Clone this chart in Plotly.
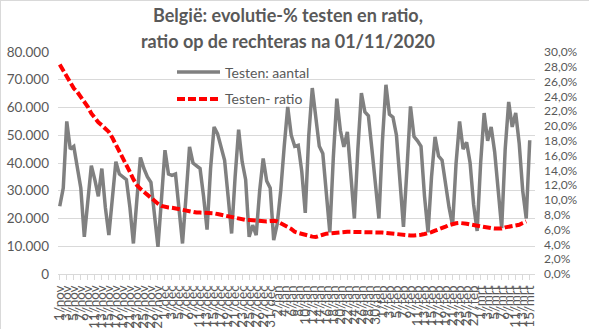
import datetime as dt
import plotly.graph_objects as go

# Daily number of tests in Belgium, from 1 November 2020 onward
tests = [
    24400, 31000, 55000, 45000, 46000, 38000, 31000,
    13400, 25000, 39000, 34000, 28000, 38000, 24000,
    14000, 28000, 40500, 36000, 35000, 34000, 24000,
    11000, 27000, 42000, 38000, 35000, 33000, 22000,
    9800, 27000, 44600, 36000, 35500, 36000, 23000,
    11000, 28000, 45800, 40000, 39000, 38000, 28000,
    16000, 38000, 53000, 50500, 46000, 41000, 28000,
    14600, 35000, 52000, 40500, 34000, 13400, 17600,
    14000, 30000, 41600, 33500, 31000, 12200, 18000,
    30000, 46000, 60200, 50000, 46000, 46400, 37000,
    22000, 50000, 67000, 56500, 46000, 43400, 30000,
    15000, 42000, 63200, 51800, 45800, 51200, 36000,
    20000, 45000, 65200, 58400, 57000, 45000, 32000,
    20000, 48000, 68200, 57500, 56500, 50000, 35000,
    17000, 38000, 60400, 49500, 48000, 46000, 28000,
    15000, 35000, 49400, 42500, 41000, 32000, 24000,
    17500, 40000, 55000, 45000, 47500, 40000, 25000,
    15500, 40000, 58000, 48000, 53000, 44000, 30000,
    16500, 45000, 62000, 53000, 58000, 47000, 30000,
    20000, 48200,
]

# Positivity ratio (%), right-hand axis
ratio = [
    28.3, 27.5, 26.6, 25.8, 25.1, 24.6, 24.0,
    23.4, 22.6, 21.7, 21.0, 20.5, 20.1, 19.6,
    19.2, 18.4, 17.5, 16.7, 15.8, 14.8, 13.8,
    12.8, 12.0, 11.5, 11.1, 10.7, 10.2, 9.8,
    9.5, 9.2, 9.05, 9.0, 8.95, 8.85, 8.8,
    8.7, 8.6, 8.5, 8.4, 8.3, 8.3, 8.3,
    8.3, 8.3, 8.2, 8.1, 8.0, 7.9, 7.8,
    7.6, 7.5, 7.4, 7.35, 7.3, 7.3, 7.25,
    7.2, 7.15, 7.1, 7.1, 7.15, 7.2, 7.1,
    6.8, 6.6, 6.35, 6.1, 5.7, 5.55, 5.4,
    5.3, 5.15, 5.05, 5.0, 5.1, 5.3, 5.45,
    5.5, 5.6, 5.6, 5.65, 5.7, 5.7, 5.7,
    5.7, 5.7, 5.7, 5.65, 5.6, 5.6, 5.6,
    5.6, 5.6, 5.55, 5.5, 5.45, 5.35, 5.3,
    5.2, 5.2, 5.2, 5.2, 5.2, 5.3, 5.4,
    5.5, 5.65, 5.85, 6.0, 6.2, 6.4, 6.6,
    6.75, 6.85, 6.9, 6.9, 6.8, 6.7, 6.6,
    6.5, 6.4, 6.35, 6.3, 6.2, 6.15, 6.1,
    6.15, 6.3, 6.4, 6.45, 6.5, 6.65, 6.9,
    7.1, None,
]

start_date = dt.date(2020, 11, 1)
month_abbr = {11: "nov", 12: "dec", 1: "jan", 2: "feb", 3: "mrt"}

left_ticks = list(range(0, 80001, 10000))
left_labels = ["0", "10.000", "20.000", "30.000", "40.000",
               "50.000", "60.000", "70.000", "80.000"]
right_ticks = list(range(0, 31, 2))
right_labels = [f"{v},0%" for v in right_ticks]

title_lines = ["België: evolutie-% testen en ratio,",
               "ratio op de rechteras na 01/11/2020"]
series_names = ["Testen: aantal", "Testen- ratio"]

days = [start_date + dt.timedelta(days=k) for k in range(len(tests))]
day_labels = [f"{d.day}/{month_abbr[d.month]}" for d in days]
shown = day_labels[::2]

TXT = "#595959"
GRID = "#d9d9d9"
GREY = "#808080"
RED = "#ff0000"
FONT = "Lato"

fig = go.Figure()
fig.add_trace(go.Scatter(
    x=day_labels, y=tests, name=series_names[0], mode="lines",
    line=dict(color=GREY, width=3.5), yaxis="y", showlegend=False,
))
fig.add_trace(go.Scatter(
    x=day_labels, y=ratio, name=series_names[1], mode="lines",
    line=dict(color=RED, width=4, dash="8px,3px"), yaxis="y2",
    showlegend=False,
))

W, H = 589, 329
L, R, T, B = 58, 54, 52, 55
pw, ph = W - L - R, H - T - B


def px(xp):
    return (xp - L) / pw


def py(yp):
    return (H - B - yp) / ph


fig.update_layout(
    width=W, height=H,
    margin=dict(l=L, r=R, t=T, b=B, pad=0),
    paper_bgcolor="white", plot_bgcolor="white",
    font=dict(family=FONT, size=13.5, color=TXT),
    xaxis=dict(
        type="category", categoryorder="array", categoryarray=day_labels,
        range=[-0.5, 135.5], tickmode="array", tickvals=shown, ticktext=shown,
        tickangle=-90, ticks="outside", ticklen=5, tickcolor=GRID,
        showline=True, linecolor=GRID, linewidth=1, showgrid=False,
        tickfont=dict(size=13.5, color=TXT), automargin=False,
    ),
    yaxis=dict(
        range=[0, 80000], tickmode="array", tickvals=left_ticks,
        ticktext=left_labels, showgrid=True, gridcolor=GRID, gridwidth=1,
        zeroline=False, showline=False, ticklabelstandoff=8,
        automargin=False,
    ),
    yaxis2=dict(
        range=[0, 30], tickmode="array", tickvals=right_ticks,
        ticktext=right_labels, overlaying="y", side="right",
        showgrid=False, zeroline=False, showline=False, ticklabelstandoff=8,
        tickfont=dict(size=12, color=TXT), automargin=False,
    ),
)

# Title, two centred lines
for text, yc in zip(title_lines, [15, 41]):
    fig.add_annotation(
        text=f"<b>{text}</b>", xref="paper", yref="paper",
        x=px(288), y=py(yc), xanchor="center", yanchor="middle",
        showarrow=False, font=dict(family=FONT, size=18, color=TXT),
    )

# Legend keys drawn inside the plot area
legend_rows = [(series_names[0], 72, GREY, "solid"),
               (series_names[1], 99, RED, "dash")]
for name, yc, col, dash in legend_rows:
    fig.add_shape(
        type="line", xref="paper", yref="paper",
        x0=px(177), x1=px(220), y0=py(yc), y1=py(yc),
        line=dict(color=col, width=4 if dash == "dash" else 3.5,
                  dash="8px,3px" if dash == "dash" else "solid"),
    )
    fig.add_annotation(
        text=name, xref="paper", yref="paper", x=px(223), y=py(yc),
        xanchor="left", yanchor="middle", showarrow=False,
        font=dict(family=FONT, size=14, color=TXT),
    )

# Thin chart-area border along the top and left edges
fig.add_shape(type="line", xref="paper", yref="paper",
              x0=px(0.5), x1=px(0.5), y0=py(0), y1=py(H),
              line=dict(color=GRID, width=1))
fig.add_shape(type="line", xref="paper", yref="paper",
              x0=px(0), x1=px(W), y0=py(0.5), y1=py(0.5),
              line=dict(color=GRID, width=1))

fig.write_html("out.html")
